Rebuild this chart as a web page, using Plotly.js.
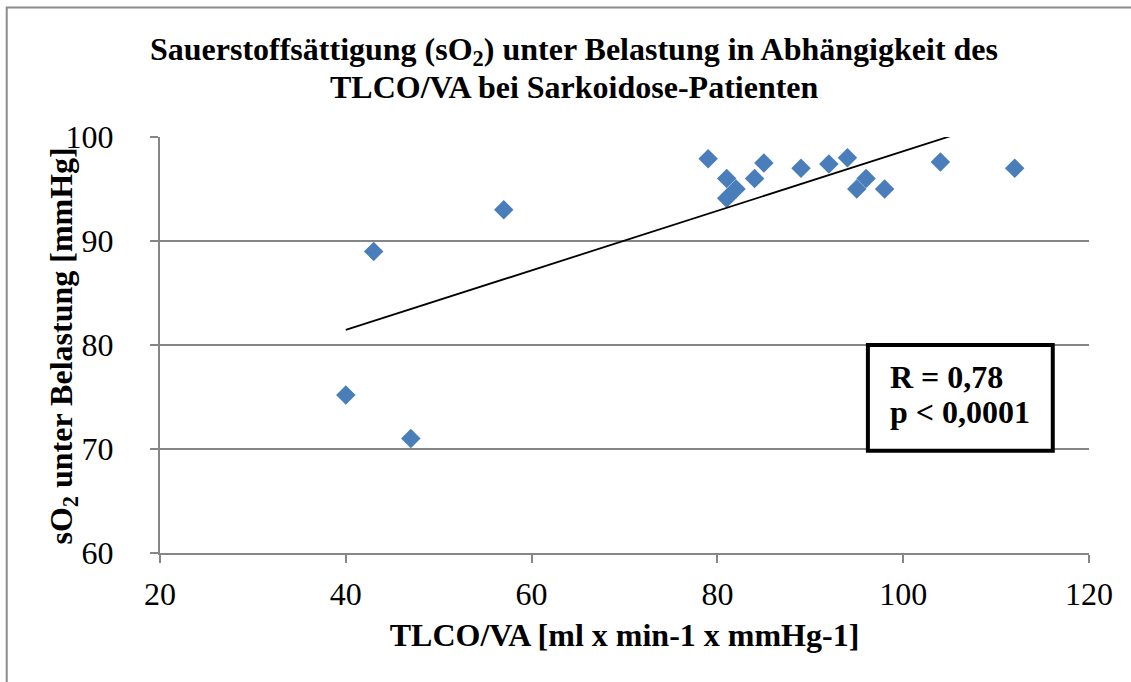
<!DOCTYPE html>
<html>
<head>
<meta charset="utf-8">
<script src="https://cdn.plot.ly/plotly-3.0.1.min.js"></script>
<style>
  html, body { margin: 0; padding: 0; background: #fff; }
  #chart { width: 1131px; height: 682px; }
</style>
</head>
<body>
<div id="chart"></div>
<script>
// TLCO/VA [ml x min-1 x mmHg-1] per patient
const tlcoVa = [40, 43, 47, 57, 79, 81, 81, 82, 84, 85, 89, 92, 94, 95, 96, 98, 104, 112];
// sO2 under exercise for the same patients
const so2 = [75.2, 89, 71, 93, 97.9, 96, 94.1, 95, 96, 97.5, 97, 97.4, 98, 95, 96, 95, 97.6, 97];

const xTicks = [20, 40, 60, 80, 100, 120];
const yTicks = [60, 70, 80, 90, 100];

const titleLines = [
  'Sauerstoffsättigung (sO<sub>2</sub>) unter Belastung in Abhängigkeit des',
  'TLCO/VA bei Sarkoidose-Patienten'
];
const yTitle = 'sO<sub>2</sub> unter Belastung [mmHg]';
const xTitle = 'TLCO/VA [ml x min-1 x mmHg-1]';
const statLines = ['R = 0,78', 'p < 0,0001'];

// least-squares linear fit across the observed x range
function linearFit(xs, ys) {
  const n = xs.length;
  const mx = xs.reduce((a, b) => a + b, 0) / n;
  const my = ys.reduce((a, b) => a + b, 0) / n;
  let sxy = 0, sxx = 0;
  for (let i = 0; i < n; i++) {
    sxy += (xs[i] - mx) * (ys[i] - my);
    sxx += (xs[i] - mx) * (xs[i] - mx);
  }
  const slope = sxy / sxx;
  return { slope, intercept: my - slope * mx };
}

const fit = linearFit(tlcoVa, so2);
const xMin = Math.min(...tlcoVa);
const xMax = Math.max(...tlcoVa);
const trendX = [xMin, xMax];
const trendY = trendX.map(v => fit.intercept + fit.slope * v);

const serif = "'Liberation Serif', 'Times New Roman', serif";
const bigBold = { family: serif, size: 32, color: '#000000' };
const tickFont = { family: serif, size: 32, color: '#000000' };

const traces = [
  {
    x: tlcoVa,
    y: so2,
    type: 'scatter',
    mode: 'markers',
    marker: { symbol: 'diamond', size: 15, color: '#4A7EBB', line: { width: 0 } },
    cliponaxis: true,
    hoverinfo: 'x+y'
  },
  {
    x: trendX,
    y: trendY,
    type: 'scatter',
    mode: 'lines',
    line: { color: '#000000', width: 1.8 },
    hoverinfo: 'skip'
  }
];

// helper for single-line bold text placed in paper coordinates
function label(text, x, y, xanchor, angle) {
  return {
    xref: 'paper', yref: 'paper', x, y,
    xanchor, yanchor: 'middle', align: xanchor,
    textangle: angle || 0,
    showarrow: false,
    text: '<b>' + text + '</b>',
    font: bigBold
  };
}

const layout = {
  width: 1131,
  height: 682,
  showlegend: false,
  paper_bgcolor: '#ffffff',
  plot_bgcolor: '#ffffff',
  margin: { l: 160, r: 42, t: 137, b: 128.5, pad: 0 },
  font: { family: serif, color: '#000000', size: 28 },
  title: {
    text: '<b>' + titleLines[0] + '</b>',
    font: bigBold,
    x: 0.5075,
    xanchor: 'center',
    xref: 'container',
    y: 1 - 48.5 / 682,
    yanchor: 'middle',
    yref: 'container'
  },
  xaxis: {
    range: [20, 120],
    tickvals: xTicks,
    ticktext: xTicks.map(String),
    showgrid: false,
    zeroline: false,
    showline: true,
    linecolor: '#868686',
    linewidth: 2,
    ticks: 'outside',
    ticklen: 8,
    tickwidth: 2,
    tickcolor: '#868686',
    ticklabelstandoff: 4,
    tickfont: tickFont,
    title: {
      text: '<b>' + xTitle + '</b>',
      font: bigBold,
      standoff: 12
    },
    fixedrange: true
  },
  yaxis: {
    range: [60, 100],
    tickvals: yTicks,
    ticktext: yTicks.map(String),
    showgrid: true,
    gridcolor: '#868686',
    gridwidth: 2,
    zeroline: false,
    showline: true,
    linecolor: '#868686',
    linewidth: 2,
    ticks: 'outside',
    ticklen: 8,
    tickwidth: 2,
    tickcolor: '#868686',
    ticklabelstandoff: 30,
    tickfont: tickFont,
    fixedrange: true
  },
  shapes: [
    // outer chart frame
    {
      type: 'rect', xref: 'paper', yref: 'paper',
      x0: -0.165, x1: 1.3, y0: -0.6, y1: 1.311,
      line: { color: '#8c8c8c', width: 2 },
      fillcolor: 'rgba(0,0,0,0)'
    },
    // statistics box
    {
      type: 'rect', xref: 'paper', yref: 'paper',
      x0: 0.762, x1: 0.961, y0: 0.246, y1: 0.500,
      line: { color: '#000000', width: 4 },
      fillcolor: '#ffffff'
    }
  ],
  annotations: [
    // second title line
    label(titleLines[1], (574 - 160) / 929, (553.5 - 86.5) / 416.8, 'center'),
    // vertical y-axis title
    label(yTitle, (64 - 160.3) / 928.5, (553.5 - 346) / 416.8, 'center', -90),
    // statistics text
    label(statLines[0], 0.784, (553.5 - 377) / 416.8, 'left'),
    label(statLines[1], 0.784, (553.5 - 412) / 416.8, 'left')
  ]
};

Plotly.newPlot('chart', traces, layout, { displayModeBar: false, staticPlot: true });
</script>
</body>
</html>
